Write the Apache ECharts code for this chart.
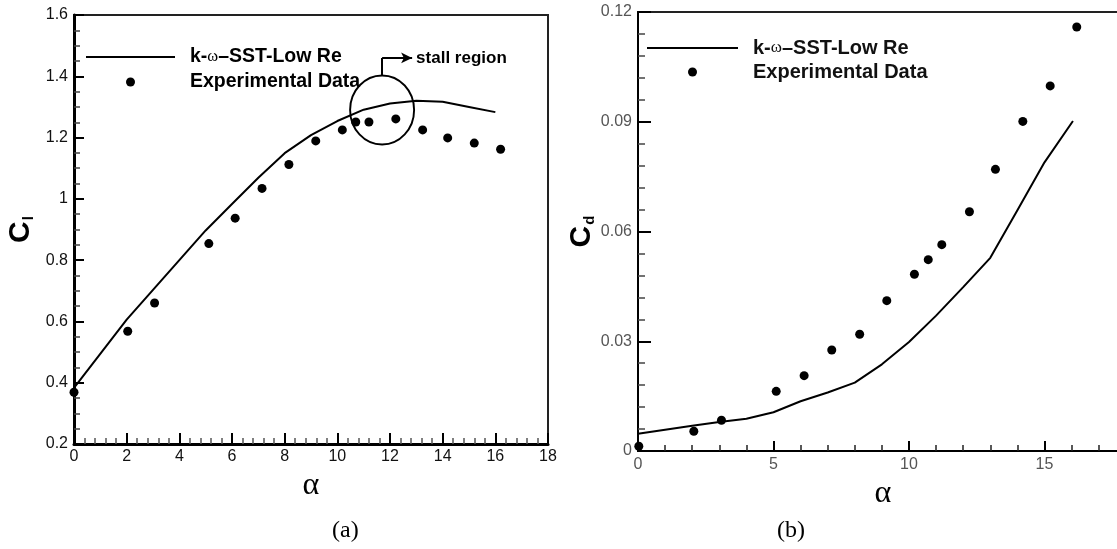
<!DOCTYPE html>
<html>
<head>
<meta charset="utf-8">
<script src="https://cdn.jsdelivr.net/npm/echarts@6/dist/echarts.min.js"></script>
<style>
html,body{margin:0;padding:0;background:#fff;}
#chart{width:1117px;height:549px;}
</style>
</head>
<body>
<div id="chart"></div>
<script>
// ---- Data: panel (a) lift coefficient ----
const cfdAlphaA = [0, 2, 3, 4, 5, 6, 7, 8, 9, 10, 11, 12, 13, 14, 15, 16];
const cfdClA = [0.383, 0.606, 0.703, 0.800, 0.897, 0.983, 1.069, 1.149, 1.208, 1.254, 1.291, 1.311, 1.320, 1.317, 1.300, 1.283];
const expAlphaA = [0, 2.04, 3.06, 5.12, 6.12, 7.14, 8.16, 9.18, 10.19, 10.7, 11.2, 12.22, 13.24, 14.19, 15.2, 16.2];
const expClA = [0.369, 0.568, 0.66, 0.854, 0.937, 1.034, 1.112, 1.189, 1.225, 1.251, 1.251, 1.261, 1.225, 1.199, 1.182, 1.162];
// stall region annotation (data coords)
const stallCenter = [11.7, 1.29];
const stallLeader = [[11.7, 1.404], [11.7, 1.46], [12.84, 1.46]];

// ---- Data: panel (b) drag coefficient ----
const cfdAlphaB = [0, 2, 3, 4, 5, 6, 7, 8, 9, 10, 11, 12, 13, 14, 15, 16.05];
const cfdCdB = [0.0047, 0.0069, 0.0079, 0.0088, 0.0106, 0.0136, 0.016, 0.0187, 0.0237, 0.0298, 0.037, 0.0448, 0.0528, 0.0658, 0.0789, 0.0902];
const expAlphaB = [0.03, 2.06, 3.08, 5.1, 6.13, 7.15, 8.18, 9.18, 10.2, 10.71, 11.21, 12.23, 13.19, 14.2, 15.21, 16.19];
const expCdB = [0.0013, 0.0054, 0.0084, 0.0163, 0.0206, 0.0276, 0.0319, 0.0411, 0.0483, 0.0523, 0.0564, 0.0654, 0.077, 0.0901, 0.0998, 0.1159];

const nameCfd = 'k-\u03c9\u2013SST-Low Re';
const nameExp = 'Experimental Data';

const zip = (a, b) => a.map((v, i) => [v, b[i]]);

const chart = echarts.init(document.getElementById('chart'), null, {renderer: 'canvas'});

const sans = 'Liberation Sans, Arial, sans-serif';
const serif = 'Liberation Serif, Times New Roman, serif';
const lineIcon = 'path://M0,0H100V2.2H0Z';

function legendFor(left, top, w, gap, fs, color) {
  return {
    orient: 'vertical', left: left, top: top, padding: 0,
    itemWidth: w, itemHeight: 9, itemGap: gap,
    symbolKeepAspect: true,
    data: [{name: nameCfd, icon: lineIcon, itemStyle: {color: '#000'}}, {name: nameExp, icon: 'circle'}],
    selectedMode: false,
    formatter: n => n.indexOf('\u03c9') >= 0 ? '{t|k-}{w|\u03c9}{t|\u2013SST-Low Re}' : '{t|' + n + '}',
    textStyle: {
      padding: [0, 0, 0, 10],
      rich: {
        t: {fontFamily: sans, fontWeight: 'bold', fontSize: fs, color: color, lineHeight: 22},
        w: {fontFamily: serif, fontSize: fs - 3, color: color, lineHeight: 22}
      }
    }
  };
}

function nameRich() {
  return {rich: {
    c: {fontFamily: sans, fontWeight: 'bold', fontSize: 30, color: '#000', lineHeight: 34, verticalAlign: 'bottom'},
    s: {fontFamily: sans, fontWeight: 'bold', fontSize: 15, color: '#000', lineHeight: 34, verticalAlign: 'bottom', padding: [0, 0, 0, 1]}
  }};
}

const option = {
  animation: false,
  backgroundColor: '#fff',
  grid: [
    {left: 74, top: 15, width: 474, height: 429, show: true, borderColor: '#222', borderWidth: 2, backgroundColor: 'transparent', outerBoundsMode: 'none', containLabel: false},
    {left: 638, top: 12, width: 542, height: 439, show: true, borderColor: '#222', borderWidth: 2, backgroundColor: 'transparent', outerBoundsMode: 'none', containLabel: false}
  ],
  legend: [
    legendFor(86, 47, 89, 5, 19.5, '#000'),
    legendFor(647, 38, 91, 4, 20, '#111')
  ],
  xAxis: [
    {
      gridIndex: 0, type: 'value', min: 0, max: 18, interval: 2,
      name: '\u03b1', nameLocation: 'middle', nameGap: 20,
      nameTextStyle: {fontFamily: serif, fontSize: 32, color: '#000'},
      axisLine: {show: true, onZero: false, lineStyle: {color: '#000', width: 3}},
      axisTick: {show: true, inside: true, length: 11, lineStyle: {color: '#000', width: 2}},
      minorTick: {show: true, splitNumber: 5, length: 6, lineStyle: {color: '#555', width: 1.5}},
      axisLabel: {fontFamily: sans, fontSize: 16, color: '#111', margin: 5},
      splitLine: {show: false}
    },
    {
      gridIndex: 1, type: 'value', min: 0, max: 20, interval: 5,
      name: '\u03b1', nameLocation: 'middle', nameGap: 20,
      nameTextStyle: {fontFamily: serif, fontSize: 32, color: '#000', padding: [0, 52, 0, 0]},
      axisLine: {show: true, onZero: false, lineStyle: {color: '#000', width: 2}},
      axisTick: {show: true, inside: true, length: 10, lineStyle: {color: '#000', width: 2}},
      minorTick: {show: true, splitNumber: 5, length: 6, lineStyle: {color: '#222', width: 1.5}},
      axisLabel: {fontFamily: sans, fontSize: 16, color: '#555', margin: 6},
      splitLine: {show: false}
    }
  ],
  yAxis: [
    {
      gridIndex: 0, type: 'value', min: 0.2, max: 1.6, interval: 0.2,
      name: '{c|C}{s|l}', nameLocation: 'middle', nameRotate: 90, nameGap: 38,
      nameTextStyle: nameRich(),
      axisLine: {show: true, onZero: false, lineStyle: {color: '#000', width: 3}},
      axisTick: {show: true, inside: true, length: 10, lineStyle: {color: '#000', width: 2}},
      minorTick: {show: true, splitNumber: 4, length: 6, lineStyle: {color: '#444', width: 1.5}},
      axisLabel: {fontFamily: sans, fontSize: 16, color: '#111', margin: 6},
      splitLine: {show: false}
    },
    {
      gridIndex: 1, type: 'value', min: 0, max: 0.12, interval: 0.03,
      name: '{c|C}{s|d}', nameLocation: 'middle', nameRotate: 90, nameGap: 40,
      nameTextStyle: nameRich(),
      axisLine: {show: true, onZero: false, lineStyle: {color: '#000', width: 2}},
      axisTick: {show: true, inside: true, length: 13, lineStyle: {color: '#000', width: 2}},
      minorTick: {show: true, splitNumber: 5, length: 7, lineStyle: {color: '#444', width: 1.5}},
      axisLabel: {fontFamily: sans, fontSize: 16, color: '#555', margin: 6},
      splitLine: {show: false}
    }
  ],
  series: [
    {
      name: nameCfd, type: 'line', xAxisIndex: 0, yAxisIndex: 0,
      data: zip(cfdAlphaA, cfdClA), showSymbol: false, symbol: 'none',
      lineStyle: {color: '#000', width: 2}, itemStyle: {color: '#000'}, silent: true
    },
    {
      name: nameExp, type: 'scatter', xAxisIndex: 0, yAxisIndex: 0,
      data: zip(expAlphaA, expClA), symbol: 'circle', symbolSize: 9,
      itemStyle: {color: '#000', opacity: 1}, silent: true
    },
    {
      name: 'stall', type: 'scatter', xAxisIndex: 0, yAxisIndex: 0,
      data: [stallCenter], symbol: 'circle', symbolSize: [64, 69], silent: true,
      itemStyle: {color: 'rgba(0,0,0,0)', borderColor: '#000', borderWidth: 2, opacity: 1},
      markLine: {
        silent: true, animation: false,
        lineStyle: {color: '#000', width: 2, type: 'solid'},
        symbolSize: [8, 11],
        label: {show: false},
        data: [
          [{coord: stallLeader[0], symbol: 'none'}, {coord: stallLeader[1], symbol: 'none'}],
          [{coord: stallLeader[1], symbol: 'none'}, {coord: stallLeader[2], symbol: 'arrow',
            label: {show: true, position: 'end', formatter: 'stall region', distance: 4,
              fontFamily: sans, fontWeight: 'bold', fontSize: 17, color: '#000'}}]
        ]
      }
    },
    {
      name: nameCfd, type: 'line', xAxisIndex: 1, yAxisIndex: 1,
      data: zip(cfdAlphaB, cfdCdB), showSymbol: false, symbol: 'none',
      lineStyle: {color: '#000', width: 2}, itemStyle: {color: '#000'}, silent: true
    },
    {
      name: nameExp, type: 'scatter', xAxisIndex: 1, yAxisIndex: 1,
      data: zip(expAlphaB, expCdB), symbol: 'circle', symbolSize: 9,
      itemStyle: {color: '#000', opacity: 1}, silent: true
    }
  ],
  graphic: [
    {type: 'text', left: 332, top: 519, style: {text: '(a)', font: '24px ' + serif, fill: '#000'}},
    {type: 'text', left: 777, top: 519, style: {text: '(b)', font: '24px ' + serif, fill: '#000'}}
  ]
};

chart.setOption(option);
</script>
</body>
</html>
